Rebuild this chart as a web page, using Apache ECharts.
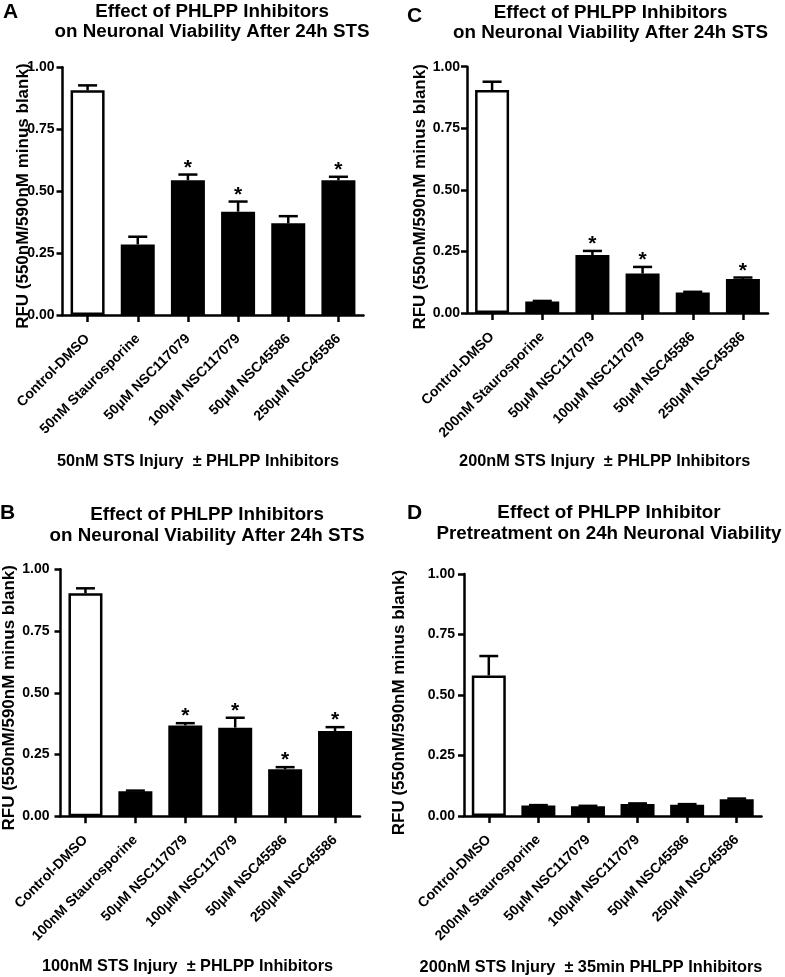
<!DOCTYPE html>
<html><head><meta charset="utf-8">
<script src="https://cdn.jsdelivr.net/npm/echarts@6/dist/echarts.min.js"></script>
<style>html,body{margin:0;padding:0;background:#fff}#c{width:785px;height:977px}</style>
</head><body><div id="c"></div>
<script>
// ---------------- data ----------------
const categoriesA = ['Control-DMSO','50nM Staurosporine','50μM NSC117079','100μM NSC117079','50μM NSC45586','250μM NSC45586'];
const categoriesB = ['Control-DMSO','100nM Staurosporine','50μM NSC117079','100μM NSC117079','50μM NSC45586','250μM NSC45586'];
const categoriesC = ['Control-DMSO','200nM Staurosporine','50μM NSC117079','100μM NSC117079','50μM NSC45586','250μM NSC45586'];
const categoriesD = ['Control-DMSO','200nM Staurosporine','50μM NSC117079','100μM NSC117079','50μM NSC45586','250μM NSC45586'];

const meansA  = [0.907, 0.285, 0.544, 0.417, 0.370, 0.544];
const errorsA = [0.020, 0.031, 0.023, 0.041, 0.029, 0.014];
const sigA    = [0, 0, 1, 1, 0, 1];

const meansB  = [0.903, 0.101, 0.368, 0.359, 0.190, 0.345];
const errorsB = [0.020, 0.003, 0.009, 0.040, 0.009, 0.016];
const sigB    = [0, 0, 1, 1, 1, 1];

const meansC  = [0.905, 0.047, 0.235, 0.160, 0.083, 0.138];
const errorsC = [0.034, 0.002, 0.017, 0.027, 0.003, 0.006];
const sigC    = [0, 0, 1, 1, 0, 1];

const meansD  = [0.581, 0.043, 0.040, 0.050, 0.047, 0.069];
const errorsD = [0.080, 0.002, 0.002, 0.002, 0.002, 0.003];
const sigD    = [0, 0, 0, 0, 0, 0];

const yTickValues = [0, 0.25, 0.50, 0.75, 1.00];
const yAxisName = 'RFU (550nM/590nM minus blank)';
const panelLetters = ['A', 'B', 'C', 'D'];
const titleLines = [
  ['Effect of PHLPP Inhibitors', 'on Neuronal Viability After 24h STS'],
  ['Effect of PHLPP Inhibitors', 'on Neuronal Viability After 24h STS'],
  ['Effect of PHLPP Inhibitors', 'on Neuronal Viability After 24h STS'],
  ['Effect of PHLPP Inhibitor', 'Pretreatment on 24h Neuronal Viability']
];
const xAxisNames = [
  '50nM STS Injury  ± PHLPP Inhibitors',
  '100nM STS Injury  ± PHLPP Inhibitors',
  '200nM STS Injury  ± PHLPP Inhibitors',
  '200nM STS Injury  ± 35min PHLPP Inhibitors'
];

// ---------------- layout ----------------
const FF = '"Liberation Sans", Arial, Helvetica, sans-serif';
const layout = [
  {grid:{left:62.5, top:67.3, width:301, height:247.7}, nameGap:31, nameShift:10, labelMargin:8, title:[212,12,32], letter:[3,12.5], xname:[198,461.5]},
  {grid:{left:60.5, top:569.3, width:299.5, height:247}, nameGap:43, nameShift:10, labelMargin:11, title:[207,515,536], letter:[0,513], xname:[187.5,966.5]},
  {grid:{left:467, top:66.7, width:301, height:246.3}, nameGap:38, nameShift:14, labelMargin:7, title:[610.5,12.5,33], letter:[407,16], xname:[604.7,462]},
  {grid:{left:464, top:574, width:297.5, height:242}, nameGap:56, nameShift:15, labelMargin:9, title:[609,513,534], letter:[407,513.3], xname:[591,967.5]}
];
const datasets = [
  [categoriesA, meansA, errorsA, sigA],
  [categoriesB, meansB, errorsB, sigB],
  [categoriesC, meansC, errorsC, sigC],
  [categoriesD, meansD, errorsD, sigD]
];

function renderErr(params, api) {
  const i = api.value(0), m = api.value(1), e = api.value(2), s = api.value(3);
  const base = api.coord([i, m]);
  const top = api.coord([i, m + e]);
  const bw = api.size([1, 0])[0];
  const half = bw * 0.19;
  const ls = {stroke:'#000', lineWidth:2.5};
  const children = [
    {type:'line', shape:{x1:base[0], y1:base[1], x2:top[0], y2:top[1]}, style:ls},
    {type:'line', shape:{x1:top[0]-half, y1:top[1], x2:top[0]+half, y2:top[1]}, style:ls}
  ];
  if (s) {
    children.push({type:'text', x:top[0], y:top[1]-6.5, style:{text:'*', fill:'#000',
      font:'bold 21px ' + FF, align:'center', verticalAlign:'middle', textAlign:'center', textVerticalAlign:'middle'}});
  }
  return {type:'group', children};
}

const grid = [], xAxis = [], yAxis = [], series = [], graphic = [];
const axisLS = {color:'#000', width:2.5};
datasets.forEach((d, idx) => {
  const [cats, means, errs, sigs] = d;
  const L = layout[idx];
  grid.push(Object.assign({containLabel:false, outerBoundsMode:'none'}, L.grid));
  xAxis.push({type:'category', gridIndex:idx, data:cats,
    axisLine:{show:true, lineStyle:axisLS},
    axisTick:{show:true, alignWithLabel:true, length:7, lineStyle:axisLS},
    axisLabel:{interval:0, rotate:45, margin:21.5, color:'#000', fontSize:14, fontWeight:'bold', fontFamily:FF},
    splitLine:{show:false}});
  yAxis.push({type:'value', gridIndex:idx, min:0, max:1, interval:0.25,
    name:yAxisName, nameLocation:'middle', nameRotate:90, nameGap:L.nameGap, nameMoveOverlap:false,
    nameTextStyle:{color:'#000', fontSize:17, fontWeight:'bold', fontFamily:FF, padding:[0, L.nameShift, 0, 0]},
    axisLine:{show:true, lineStyle:axisLS},
    axisTick:{show:true, length:6, lineStyle:axisLS},
    axisLabel:{margin:L.labelMargin, color:'#000', fontSize:14, fontWeight:'bold', fontFamily:FF,
      customValues: yTickValues, formatter: v => Number(v).toFixed(2)},
    splitLine:{show:false}});
  series.push({type:'bar', xAxisIndex:idx, yAxisIndex:idx, barWidth:34, silent:true,
    data: means.map((v, i) => i === 0
      ? {value:v, itemStyle:{color:'#fff', borderColor:'#000', borderWidth:2.5}}
      : {value:v, itemStyle:{color:'#000'}})});
  series.push({type:'custom', xAxisIndex:idx, yAxisIndex:idx, z:5, silent:true, renderItem:renderErr,
    data: means.map((v, i) => [i, v, errs[i], sigs[i]])});

  const tx = L.title[0];
  titleLines[idx].forEach((t, j) => {
    graphic.push({type:'text', x:tx, y:L.title[1+j], style:{text:t, fill:'#000', font:'bold 18.8px ' + FF,
      align:'center', verticalAlign:'middle', textAlign:'center', textVerticalAlign:'middle'}});
  });
  graphic.push({type:'text', x:L.letter[0], y:L.letter[1], style:{text:panelLetters[idx], fill:'#000', font:'bold 21px ' + FF,
    align:'left', verticalAlign:'middle', textAlign:'left', textVerticalAlign:'middle'}});
  graphic.push({type:'text', x:L.xname[0], y:L.xname[1], style:{text:xAxisNames[idx], fill:'#000', font:'bold 16.3px ' + FF,
    align:'center', verticalAlign:'middle', textAlign:'center', textVerticalAlign:'middle'}});
});

const chart = echarts.init(document.getElementById('c'), null, {renderer:'canvas'});
chart.setOption({backgroundColor:'#fff', animation:false, grid, xAxis, yAxis, series, graphic});
</script></body></html>
